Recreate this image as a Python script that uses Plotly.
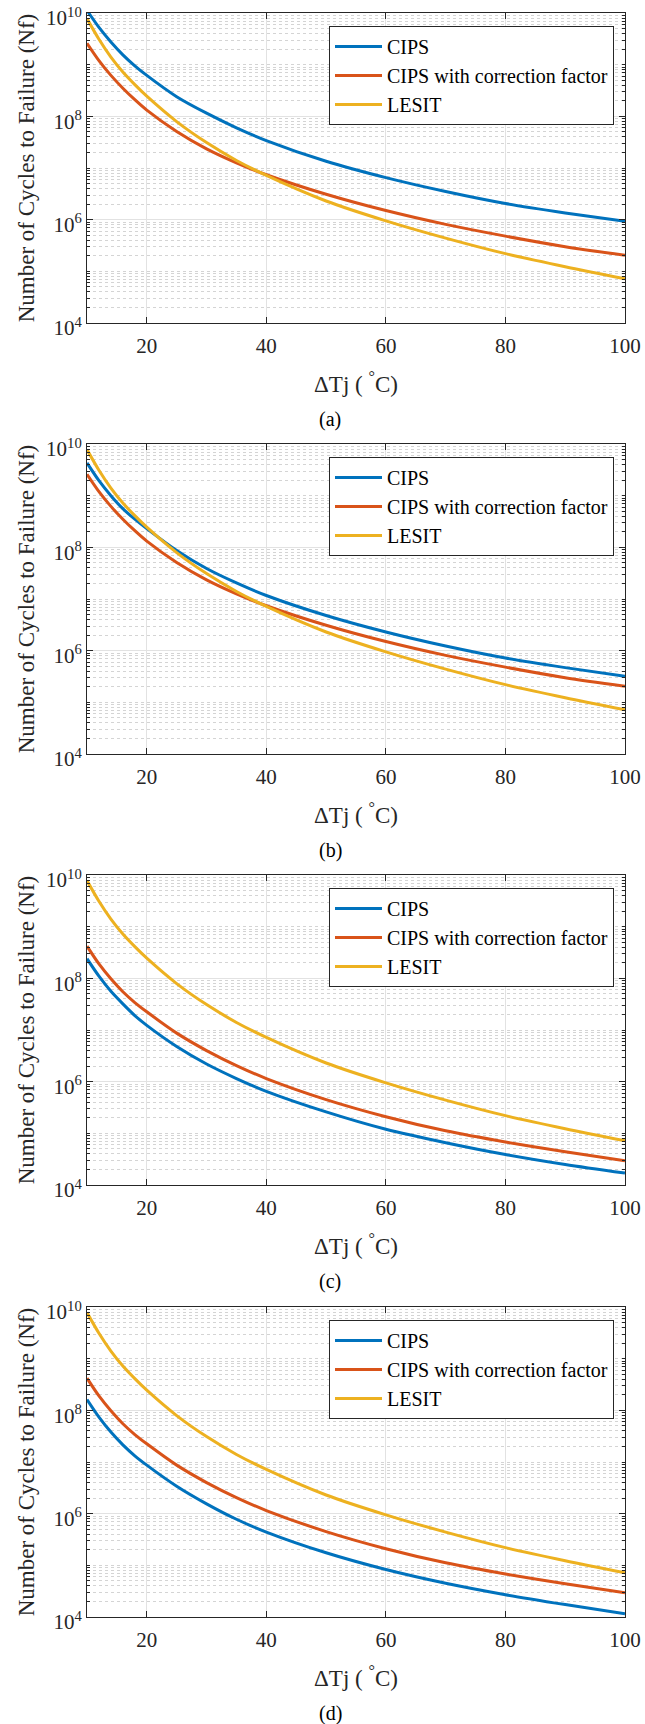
import plotly.graph_objects as go

# ---------------- data ----------------
dT = [10, 12, 14, 16, 18, 20, 25, 30, 35, 40, 50, 60, 70, 80, 90, 100]

lesit = [7.8e9, 3.1e9, 1.4e9, 7.2e8, 4.1e8, 2.45e8, 7.9e7, 3.1e7, 1.4e7, 7.2e6,
         2.3e6, 9.5e5, 4.4e5, 2.2e5, 1.23e5, 7.2e4]

cips_a = [1.12e10, 5.25e9, 2.75e9, 1.55e9, 9.5e8, 6.2e8, 2.4e8, 1.15e8, 6.0e7, 3.4e7,
          1.35e7, 6.5e6, 3.5e6, 2.05e6, 1.35e6, 9.3e5]
cips_cf_ab = [2.6e9, 1.2e9, 6.2e8, 3.5e8, 2.1e8, 1.32e8, 5.1e7, 2.35e7, 1.26e7, 7.4e6,
              3.1e6, 1.5e6, 8.1e5, 4.8e5, 3.0e5, 2.05e5]

cips_b = [4.3e9, 1.95e9, 1.0e9, 5.6e8, 3.5e8, 2.3e8, 8.7e7, 3.9e7, 2.05e7, 1.17e7,
          4.8e6, 2.3e6, 1.23e6, 7.2e5, 4.7e5, 3.2e5]

cips_c = [2.4e8, 1.1e8, 5.6e7, 3.2e7, 1.9e7, 1.23e7, 4.8e6, 2.2e6, 1.15e6, 6.5e5,
          2.6e5, 1.2e5, 6.6e4, 3.9e4, 2.5e4, 1.7e4]
cips_cf_cd = [4.2e8, 1.9e8, 9.8e7, 5.5e7, 3.4e7, 2.25e7, 8.7e6, 4.0e6, 2.05e6, 1.15e6,
              4.5e5, 2.1e5, 1.12e5, 6.8e4, 4.4e4, 2.95e4]

cips_d = [1.62e8, 7.4e7, 3.8e7, 2.15e7, 1.32e7, 8.7e6, 3.4e6, 1.55e6, 7.8e5, 4.4e5,
          1.75e5, 8.3e4, 4.5e4, 2.7e4, 1.74e4, 1.15e4]

series_names = ["CIPS", "CIPS with correction factor", "LESIT"]
captions = ["(a)", "(b)", "(c)", "(d)"]
panel_series = [
    [cips_a, cips_cf_ab, lesit],
    [cips_b, cips_cf_ab, lesit],
    [cips_c, cips_cf_cd, lesit],
    [cips_d, cips_cf_cd, lesit],
]
x_ticks = [20, 40, 60, 80, 100]
y_ticks = [1e4, 1e6, 1e8, 1e10]
y_ticktext = ["10<sup>4</sup>", "10<sup>6</sup>", "10<sup>8</sup>", "10<sup>10</sup>"]

# ---------------- style / layout ----------------
colors = ["#0072BD", "#D95319", "#EDB120"]
W, H = 645, 1724
X0, X1 = 87, 625
TOPS = [13, 444, 875, 1307]
PH = 310
FONT = "Liberation Serif"
AX = "#262626"

minor_y = [k * 10 ** n for n in range(4, 10) for k in range(2, 10)] + [1e5, 1e7, 1e9]

fig = go.Figure()
layout = dict(
    width=W, height=H,
    margin=dict(l=0, r=0, t=0, b=0, autoexpand=False),
    paper_bgcolor="white", plot_bgcolor="white",
    font=dict(family=FONT, color=AX),
    annotations=[],
    showlegend=True,
)

for i, (series, cap) in enumerate(zip(panel_series, captions)):
    k = "" if i == 0 else str(i + 1)
    top = TOPS[i]
    bot = top + PH
    lg = "legend" + k
    for name, ys, col in zip(series_names, series, colors):
        fig.add_trace(go.Scatter(
            x=dT, y=ys, mode="lines", name=name,
            line=dict(color=col, width=3, shape="spline", smoothing=0.8),
            xaxis="x" + k, yaxis="y" + k, legend=lg,
        ))
    layout["xaxis" + k] = dict(
        domain=[X0 / W, X1 / W], anchor="y" + k, range=[10, 100], automargin=False,
        tickmode="array", tickvals=x_ticks,
        ticks="inside", ticklen=6, tickcolor=AX, tickwidth=1,
        showline=True, linecolor=AX, linewidth=1, mirror="ticks",
        showgrid=True, gridcolor="#e2e2e2", gridwidth=1, zeroline=False,
        tickfont=dict(size=21, family=FONT, color=AX), ticklabelstandoff=4,
        title=dict(text="ΔTj ( <sup>°</sup>C)", font=dict(size=23, family=FONT, color=AX), standoff=18),
    )
    layout["yaxis" + k] = dict(
        domain=[1 - bot / H, 1 - top / H], anchor="x" + k, type="log", range=[4, 10],
        automargin=False,
        tickmode="array", tickvals=y_ticks, ticktext=y_ticktext,
        ticks="inside", ticklen=6, tickcolor=AX, tickwidth=1,
        showline=True, linecolor=AX, linewidth=1, mirror="ticks",
        showgrid=True, gridcolor="#e2e2e2", gridwidth=1, zeroline=False,
        tickfont=dict(size=21, family=FONT, color=AX), ticklabelshift=5,
        minor=dict(tickmode="array", tickvals=minor_y, ticks="inside", ticklen=3,
                   tickcolor=AX, showgrid=True, gridcolor="#d4d4d4", griddash="dot", gridwidth=1),
        title=dict(text="Number of Cycles to Failure (Nf)", font=dict(size=23, family=FONT, color=AX), standoff=5),
    )
    layout[lg] = dict(
        x=614 / W, xanchor="right", y=1 - (top + 13) / H, yanchor="top",
        bgcolor="white", bordercolor=AX, borderwidth=1,
        font=dict(size=20, family=FONT, color="black"),
        itemwidth=47, tracegroupgap=0,
    )
    layout["annotations"].append(dict(
        text=cap, xref="paper", yref="paper", x=330 / W, y=1 - (bot + 96) / H,
        xanchor="center", yanchor="middle", showarrow=False,
        font=dict(size=20, family=FONT, color="black"),
    ))

fig.update_layout(**layout)
fig.write_html("out.html", config={"displayModeBar": False},
               post_script="document.body.style.margin='0';")
